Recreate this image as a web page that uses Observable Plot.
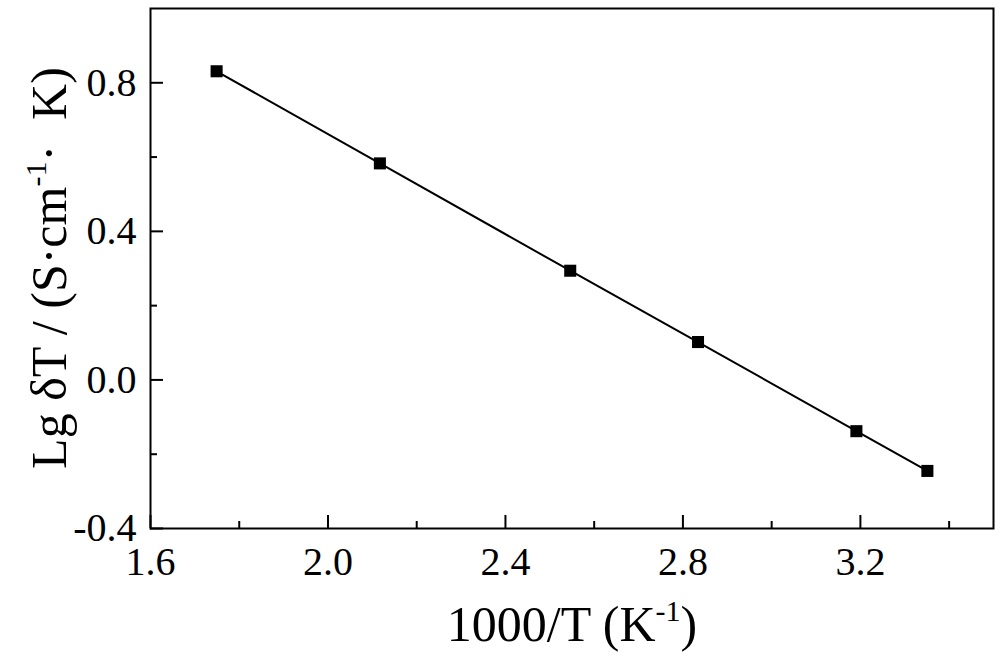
<!DOCTYPE html>
<html>
<head>
<meta charset="utf-8">
<script src="https://cdn.jsdelivr.net/npm/d3@7"></script>
<script src="https://cdn.jsdelivr.net/npm/@observablehq/plot@0.6"></script>
<style>
  html, body { margin: 0; padding: 0; background: #fff; }
  #chart svg { display: block; }
</style>
</head>
<body>
<div id="chart"></div>
<script>
// Data
const invT = [1.749, 2.117, 2.546, 2.834, 3.191, 3.351];
const lgST = [0.831, 0.583, 0.294, 0.102, -0.138, -0.245];

const xMajor = [1.6, 2.0, 2.4, 2.8, 3.2];
const xMinor = [1.8, 2.2, 2.6, 3.0, 3.4];
const yMajor = [-0.4, 0.0, 0.4, 0.8];
const yMinor = [-0.2, 0.2, 0.6];

const xTitle = "1000/T (K";
const yTitle = "Lg δT / (S·cm";

const data = invT.map((x, i) => ({x, y: lgST[i]}));
const fmt = d => d.toFixed(1);
const font = "'Liberation Serif', 'Times New Roman', serif";

const chart = Plot.plot({
  width: 1000,
  height: 660,
  marginLeft: 150,
  marginRight: 7,
  marginTop: 8,
  marginBottom: 132,
  style: {fontFamily: font, fontSize: "40px", color: "#000", background: "#fff"},
  x: {domain: [1.6, 3.5], label: null},
  y: {domain: [-0.4, 1.0], label: null},
  marks: [
    Plot.axisX(xMajor, {tickSize: -13, tickPadding: 31, tickFormat: fmt, fontSize: 40, strokeWidth: 2, label: null}),
    Plot.axisX(xMinor, {tickSize: -7, tickFormat: () => "", strokeWidth: 2, label: null}),
    Plot.axisY(yMajor, {tickSize: -13, tickPadding: 27, tickFormat: fmt, fontSize: 40, strokeWidth: 2, label: null}),
    Plot.axisY(yMinor, {tickSize: -7, tickFormat: () => "", strokeWidth: 2, label: null}),
    Plot.frame({stroke: "#000", strokeWidth: 2}),
    Plot.line(data, {x: "x", y: "y", stroke: "#000", strokeWidth: 2}),
    Plot.dot(data, {x: "x", y: "y", symbol: "square", r: 6.8, fill: "#000", stroke: "none"})
  ]
});

document.getElementById("chart").appendChild(chart);

// Axis titles with superscripts
const svg = d3.select(chart);
const xt = svg.append("text")
  .attr("x", 572).attr("y", 641)
  .attr("text-anchor", "middle")
  .attr("font-family", font).attr("font-size", 50).attr("fill", "#000");
xt.append("tspan").text(xTitle);
xt.append("tspan").attr("font-size", 30).attr("dy", -20).text("-1");
xt.append("tspan").attr("dy", 20).text(")");

const yt = svg.append("text")
  .attr("transform", "translate(66,268) rotate(-90)")
  .attr("text-anchor", "middle")
  .attr("font-family", font).attr("font-size", 50).attr("fill", "#000");
yt.append("tspan").text(yTitle);
yt.append("tspan").attr("font-size", 30).attr("dy", -20).text("-1");
yt.append("tspan").attr("dy", 20).text("·  K)");
</script>
</body>
</html>
